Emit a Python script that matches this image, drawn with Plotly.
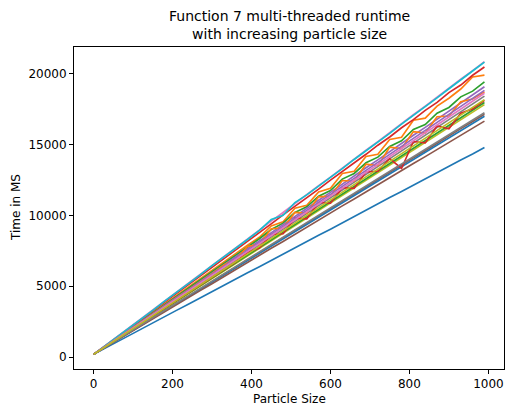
import plotly.graph_objects as go

particle_size = list(range(0, 991, 30))

blue_a = [200, 650, 1075, 1530, 1960, 2415, 2845, 3300, 3725, 4180, 4610, 5065, 5490, 5950, 6375, 6830, 7260,
          7715, 8140, 8600, 9025, 9480, 9905, 10365, 10790, 11250, 11675, 12130, 12555, 13015, 13440, 13900, 14320, 14780]
orange_a = [200, 797, 1394, 1991, 2588, 3185, 3782, 4379, 4976, 5573, 6170, 6767, 7364, 7900, 8450, 9250, 9550,
            10500, 10700, 11650, 11900, 12950, 13100, 14150, 14300, 15350, 15500, 16700, 16850, 17700, 18250, 18900, 19750, 19880]
green_a = [200, 782, 1364, 1946, 2528, 3110, 3692, 4274, 4856, 5438, 6020, 6602, 7184, 7766, 8348, 9000, 9450,
           10200, 10600, 11350, 11750, 12550, 12950, 13700, 14100, 14850, 15250, 16050, 16400, 17200, 17600, 18350, 18750, 19410]
red_a = [200, 810, 1435, 2035, 2660, 3260, 3890, 4490, 5115, 5715, 6345, 6940, 7570, 8165, 8800, 9395, 10030,
         10620, 11260, 11845, 12480, 13070, 13710, 14300, 14940, 15520, 16170, 16740, 17400, 17960, 18650, 19180, 19870, 20450]
purple_a = [200, 780, 1335, 1925, 2480, 3065, 3620, 4210, 4765, 5350, 5910, 6495, 7050, 7640, 8195, 8780, 9335,
            9925, 10480, 11065, 11620, 12210, 12765, 13350, 13905, 14495, 15050, 15640, 16195, 16780, 17335, 17925, 18480, 19060]
brown_a = [200, 720, 1220, 1745, 2245, 2770, 3270, 3800, 4295, 4825, 5320, 5850, 6350, 6875, 7375, 7900, 8400,
           8930, 9425, 9955, 10450, 10980, 11480, 12005, 12505, 13035, 13530, 14060, 14555, 15085, 15580, 16110, 16610, 17120]
pink_a = [200, 830, 1440, 2085, 2695, 3335, 3945, 4585, 5195, 5840, 6445, 7090, 7695, 8340, 8945, 9590, 10195,
          10840, 11445, 12090, 12695, 13340, 13945, 14590, 15195, 15840, 16445, 17090, 17695, 18340, 18945, 19590, 20200, 20830]
grey_a = [200, 752, 1303, 1855, 2406, 2958, 3509, 4061, 4612, 5164, 5715, 6267, 6818, 7370, 7921, 8473, 9024,
          9576, 10127, 10679, 11230, 11782, 12333, 12885, 13436, 13988, 14539, 15091, 15642, 16194, 16745, 17297, 17848, 18400]
olive_a = [200, 733, 1267, 1800, 2333, 2867, 3400, 3933, 4467, 5000, 5533, 6067, 6600, 7133, 7667, 8200, 8733,
           9267, 9800, 10333, 10867, 11400, 11933, 12467, 13000, 13533, 14067, 14600, 15133, 15667, 16200, 16733, 17267, 17800]
cyan_a = [200, 815, 1460, 2060, 2710, 3305, 3955, 4555, 5200, 5800, 6450, 7050, 7700, 8295, 8945, 9700, 10000,
          10900, 11440, 12040, 12685, 13285, 13935, 14530, 15180, 15780, 16425, 17025, 17675, 18275, 18920, 19520, 20170, 20790]
blue_b = [200, 709, 1217, 1726, 2234, 2743, 3251, 3760, 4268, 4777, 5285, 5794, 6302, 6811, 7319, 7828, 8336,
          8845, 9353, 9862, 10370, 10879, 11387, 11896, 12404, 12913, 13421, 13930, 14438, 14947, 15455, 15964, 16472, 16981]
orange_b = [200, 767, 1334, 1901, 2468, 3035, 3602, 4169, 4736, 5303, 5870, 6500, 6900, 7800, 7950, 9050, 9100,
            10200, 10150, 11300, 11350, 12450, 12400, 13600, 13500, 14800, 14700, 15900, 15800, 16950, 17000, 18000, 18200, 18700]
green_b = [200, 738, 1276, 1814, 2352, 2890, 3427, 3965, 4503, 5041, 5579, 6117, 6655, 7193, 7731, 8269, 8806,
           9344, 9882, 10420, 10958, 11496, 12034, 12572, 13110, 13648, 14185, 14723, 15261, 15799, 16337, 16875, 17413, 17951]
red_b = [200, 746, 1292, 1838, 2384, 2930, 3476, 4022, 4568, 5114, 5660, 6206, 6700, 7400, 7700, 8650, 8700,
         9800, 9750, 10900, 10850, 11950, 11900, 13050, 13100, 14000, 13300, 15200, 15100, 16300, 16100, 17200, 17500, 18100]
purple_b = [200, 764, 1327, 1891, 2455, 3018, 3582, 4145, 4709, 5273, 5836, 6400, 6964, 7527, 8091, 8655, 9218,
            9782, 10345, 10909, 11473, 12036, 12600, 13164, 13727, 14291, 14855, 15418, 15982, 16545, 17109, 17673, 18236, 18800]
brown_b = [200, 705, 1190, 1700, 2185, 2695, 3180, 3695, 4178, 4690, 5172, 5685, 6170, 6680, 7165, 7678, 8160,
           8672, 9158, 9670, 10152, 10665, 11150, 11660, 12145, 12658, 13140, 13655, 14138, 14650, 15132, 15645, 16128, 16640]
pink_b = [200, 758, 1315, 1873, 2430, 2988, 3546, 4103, 4661, 5218, 5776, 6334, 6891, 7449, 8006, 8564, 9122,
          9679, 10237, 10794, 11352, 11910, 12467, 13025, 13582, 14140, 14698, 15255, 15813, 16370, 16928, 17486, 18043, 18601]
grey_b = [200, 716, 1232, 1748, 2264, 2780, 3296, 3812, 4328, 4844, 5360, 5876, 6392, 6908, 7424, 7940, 8456,
          8972, 9488, 10004, 10520, 11036, 11552, 12068, 12584, 13100, 13616, 14132, 14648, 15164, 15680, 16196, 16712, 17228]
olive_b = [200, 744, 1288, 1832, 2376, 2920, 3463, 4007, 4551, 5095, 5639, 6183, 6727, 7271, 7815, 8359, 8902,
           9446, 9990, 10534, 11078, 11622, 12166, 12710, 13254, 13798, 14341, 14885, 15429, 15973, 16517, 17061, 17605, 18149]

series = [blue_a, orange_a, green_a, red_a, purple_a, brown_a, pink_a, grey_a, olive_a, cyan_a,
          blue_b, orange_b, green_b, red_b, purple_b, brown_b, pink_b, grey_b, olive_b]
palette = ["#1f77b4", "#ff7f0e", "#2ca02c", "#d62728", "#9467bd",
           "#8c564b", "#e377c2", "#7f7f7f", "#bcbd22", "#17becf"]

x_ticks = [0, 200, 400, 600, 800, 1000]
y_ticks = [0, 5000, 10000, 15000, 20000]

fig = go.Figure()
for i, s in enumerate(series):
    fig.add_trace(go.Scatter(x=particle_size, y=s, mode="lines",
                             line=dict(color=palette[i % 10], width=1.65),
                             showlegend=False))

allv = [v for s in series for v in s]
ymin, ymax = min(allv), max(allv)
ypad = (ymax - ymin) * 0.05
xpad = (max(particle_size) - min(particle_size)) * 0.05

font = dict(family="DejaVu Sans", size=12, color="black")
axis_common = dict(showgrid=False, zeroline=False, showline=True, linecolor="black", linewidth=0.9,
                   mirror=True, ticks="outside", ticklen=4, tickwidth=0.9, tickcolor="black",
                   tickfont=font, tickformat="d")

fig.update_layout(
    width=507, height=406,
    margin=dict(l=74, r=3, t=47, b=37),
    paper_bgcolor="white", plot_bgcolor="white",
    font=font,
    xaxis=dict(range=[min(particle_size) - xpad, max(particle_size) + xpad],
               tickvals=x_ticks, **axis_common),
    yaxis=dict(range=[ymin - ypad, ymax + ypad], tickvals=y_ticks, **axis_common),
    annotations=[
        dict(text="Function 7 multi-threaded runtime<br>with increasing particle size",
             xref="paper", yref="paper", x=0.5, y=1, xanchor="center", yanchor="bottom",
             yshift=3, showarrow=False, font=dict(family="DejaVu Sans", size=14, color="black")),
        dict(text="Particle Size", xref="paper", yref="paper", x=0.5, y=0,
             xanchor="center", yanchor="middle", yshift=-30, showarrow=False, font=font),
        dict(text="Time in MS", xref="paper", yref="paper", x=0, y=0.5, textangle=-90,
             xanchor="center", yanchor="middle", xshift=-58, showarrow=False, font=font),
    ],
)

fig.write_html("out.html")
